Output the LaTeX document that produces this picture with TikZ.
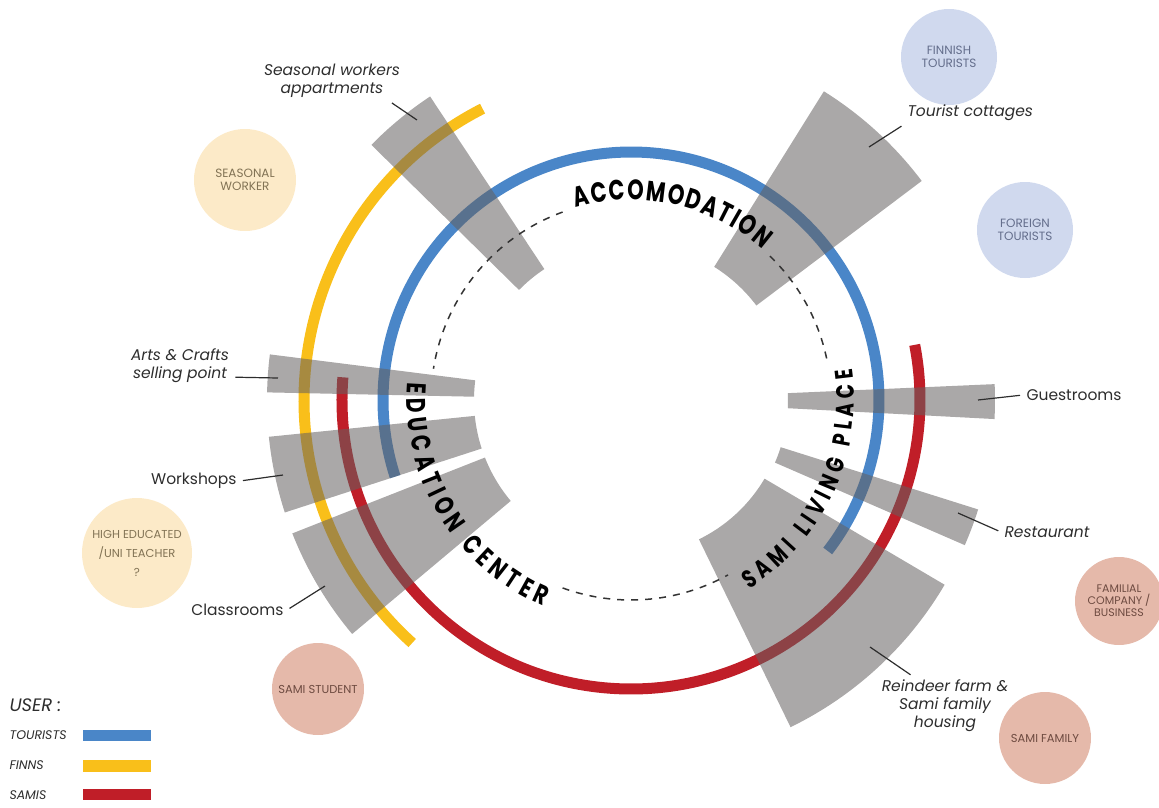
\documentclass[tikz,border=0pt]{standalone}
\usepackage{fontspec}
\setmainfont{Poppins}
\newfontfamily\ringfont[FakeStretch=0.75]{Poppins}
\usetikzlibrary{decorations.text}

\definecolor{tourblue}{RGB}{74,134,200}
\definecolor{finnyellow}{RGB}{249,191,26}
\definecolor{samired}{RGB}{192,30,40}
\definecolor{wedgegray}{RGB}{100,96,96}
\definecolor{bluedisc}{RGB}{208,217,238}
\definecolor{yellowdisc}{RGB}{252,234,200}
\definecolor{reddisc}{RGB}{229,185,170}
\definecolor{bluetext}{RGB}{100,110,140}
\definecolor{yellowtext}{RGB}{130,115,85}
\definecolor{redtext}{RGB}{110,75,65}
\definecolor{labelgray}{RGB}{45,45,45}

\tikzset{
  usercircle/.style={circle, inner sep=0pt, align=center, font=\fontsize{12}{13}\selectfont},
  wedgefill/.style={fill=wedgegray, fill opacity=0.55},
  userarc/.style={line width=11pt},
  ringline/.style={line width=1.5pt, dash pattern=on 7pt off 7pt, color=black!80},
  leader/.style={draw=labelgray, line width=1.2pt, shorten <=3pt},
  roomlabel/.style={text=labelgray, align=center, font=\fontsize{15.5}{18}\selectfont},
  roomlabelit/.style={roomlabel, font=\fontsize{15.5}{18}\selectfont\itshape},
  legendtext/.style={anchor=west, text=labelgray, font=\fontsize{12.5}{13}\selectfont\itshape},
}

\begin{document}
\begin{tikzpicture}[x=1pt, y=1pt]
  \useasboundingbox (-631,-407) rectangle (528,400);

  % users
  \node[usercircle, fill=bluedisc, text=bluetext, minimum size=96pt] (finTour) at (318,343) {FINNISH\\TOURISTS};
  \node[usercircle, fill=bluedisc, text=bluetext, minimum size=96pt] (forTour) at (394,170) {FOREIGN\\TOURISTS};
  \node[usercircle, fill=yellowdisc, text=yellowtext, minimum size=102pt] (seasWorker) at (-386,220) {SEASONAL\\WORKER};
  \node[usercircle, fill=yellowdisc, text=yellowtext, minimum size=110pt, font=\fontsize{11.5}{19}\selectfont] (highEdu) at (-494,-153) {HIGH EDUCATED\\/UNI TEACHER\\?};
  \node[usercircle, fill=reddisc, text=redtext, minimum size=92pt, font=\fontsize{11.5}{13}\selectfont] (samiStud) at (-313,-289) {SAMI STUDENT};
  \node[usercircle, fill=reddisc, text=redtext, minimum size=88pt, font=\fontsize{11}{12}\selectfont] (famComp) at (488,-201) {FAMILIAL\\COMPANY /\\BUSINESS};
  \node[usercircle, fill=reddisc, text=redtext, minimum size=92pt, font=\fontsize{11.5}{13}\selectfont] (samiFam) at (414,-338) {SAMI FAMILY};

  % user arcs
  \draw[userarc, finnyellow] (117:327) arc[start angle=117, end angle=228, radius=327];
  \draw[userarc, tourblue] (-37.5:248) arc[start angle=-37.5, end angle=198, radius=248];
  \draw[userarc, samired] (175.5:289) arc[start angle=175.5, end angle=371, radius=289];

  % rooms
  \fill[wedgefill] (123.5:157) arc[start angle=123.5, end angle=135.5, radius=157] -- (135.5:364) arc[start angle=135.5, end angle=123.5, radius=364] -- cycle;
  \fill[wedgefill] (37:157) arc[start angle=37, end angle=58, radius=157] -- (58:364) arc[start angle=58, end angle=37, radius=364] -- cycle;
  \fill[wedgefill] (172.8:157) arc[start angle=172.8, end angle=178.8, radius=157] -- (178.8:364) arc[start angle=178.8, end angle=172.8, radius=364] -- cycle;
  \fill[wedgefill] (185.8:157) arc[start angle=185.8, end angle=198, radius=157] -- (198:364) arc[start angle=198, end angle=185.8, radius=364] -- cycle;
  \fill[wedgefill] (201.5:157) arc[start angle=201.5, end angle=220, radius=157] -- (220:364) arc[start angle=220, end angle=201.5, radius=364] -- cycle;
  \fill[wedgefill] (-3:157) arc[start angle=-3, end angle=2.5, radius=157] -- (2.5:364) arc[start angle=2.5, end angle=-3, radius=364] -- cycle;
  \fill[wedgefill] (-23.5:157) arc[start angle=-23.5, end angle=-17.5, radius=157] -- (-17.5:364) arc[start angle=-17.5, end angle=-23.5, radius=364] -- cycle;
  \fill[wedgefill] (-64:155) arc[start angle=-64, end angle=-30.5, radius=155] -- (-30.5:364) arc[start angle=-30.5, end angle=-64, radius=364] -- cycle;

  % dashed ring
  \draw[ringline] (12:200) arc[start angle=12, end angle=46, radius=200];
  \draw[ringline] (110:200) arc[start angle=110, end angle=171, radius=200];
  \draw[ringline] (250:200) arc[start angle=250, end angle=299, radius=200];

  % ring titles
  \path[decorate, decoration={text along path, text align=fit to path,
    text={|\ringfont\bfseries\fontsize{28}{28}\selectfont|ACCOMODATION}}]
    (106:200) arc[start angle=106, end angle=49, radius=200];
  \path[decorate, decoration={text along path, text align=fit to path,
    text={|\ringfont\bfseries\fontsize{27}{27}\selectfont|EDUCATION CENTER}}]
    (175.5:224) arc[start angle=175.5, end angle=247, radius=224];
  \path[decorate, decoration={text along path, text align=fit to path,
    text={|\ringfont\bfseries\fontsize{25}{25}\selectfont|SAMI LIVING PLACE}}]
    (-58:223) arc[start angle=-58, end angle=8, radius=223];

  % room labels
  \coordinate (cSeasonal) at (-214,280);
  \coordinate (cCottages) at (238,253);
  \coordinate (cArts) at (-353,22);
  \coordinate (cWork) at (-348,-75);
  \coordinate (cClass) at (-306,-186);
  \coordinate (cGuest) at (347,0);
  \coordinate (cRest) at (327,-113);
  \coordinate (cReindeer) at (239,-247);

  \node[roomlabelit] (lblSeasonal) at (-299,319) {Seasonal workers\\appartments};
  \node[roomlabelit, anchor=west] (lblCottages) at (273,287) {Tourist cottages};
  \node[roomlabelit] (lblArts) at (-451,34) {Arts \& Crafts\\selling point};
  \node[roomlabel, anchor=east] (lblWork) at (-391,-81) {Workshops};
  \node[roomlabel, anchor=east] (lblClass) at (-344,-210) {Classrooms};
  \node[roomlabel, anchor=west] (lblGuest) at (392,5) {Guestrooms};
  \node[roomlabelit, anchor=west] (lblRest) at (370,-132) {Restaurant};
  \node[roomlabelit] (lblReindeer) at (314,-306) {Reindeer farm \&\\Sami family\\housing};

  \draw[leader] ([xshift=-14pt]lblSeasonal.south east) -- (cSeasonal);
  \draw[leader] (lblCottages.south west) -- (cCottages);
  \draw[leader] (lblArts.-12) -- (cArts);
  \draw[leader] (lblWork.east) -- (cWork);
  \draw[leader] (lblClass.east) -- (cClass);
  \draw[leader] (lblGuest.west) -- (cGuest);
  \draw[leader] (lblRest.west) -- (cRest);
  \draw[leader] ([xshift=-32pt]lblReindeer.north) -- (cReindeer);

  % legend
  \node[anchor=west, text=labelgray, font=\fontsize{18}{18}\selectfont\itshape] (lgUser) at (-625,-305) {USER :};
  \node[legendtext] (lgTour) at (-625,-335) {TOURISTS};
  \node[legendtext] (lgFinn) at (-625,-365) {FINNS};
  \node[legendtext] (lgSami) at (-625,-395) {SAMIS};
  \fill[tourblue] (-548,-330) rectangle (-480,-341);
  \fill[finnyellow] (-548,-360) rectangle (-480,-372);
  \fill[samired] (-548,-389) rectangle (-480,-400);
\end{tikzpicture}
\end{document}
